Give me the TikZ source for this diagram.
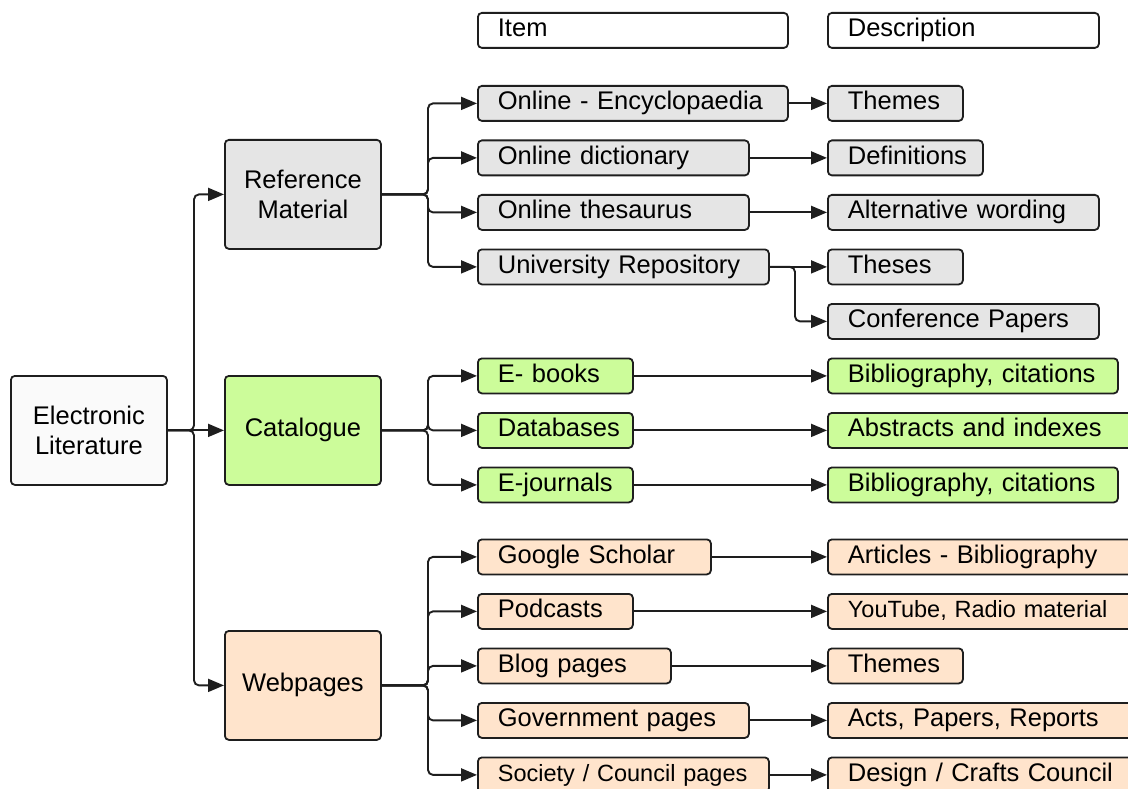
\documentclass[tikz,border=0pt]{standalone}
\usepackage{fontspec}
\setmainfont{Liberation Sans}
\usetikzlibrary{arrows.meta}
\definecolor{edge}{HTML}{1E1E1E}
\definecolor{elf}{HTML}{FAFAFA}
\definecolor{greyf}{HTML}{E5E5E5}
\definecolor{greenf}{HTML}{CCFC9A}
\definecolor{peachf}{HTML}{FFE4CC}
\newcommand\fs{\fontsize{25.5pt}{30pt}\selectfont}
\newcommand\fsm{\fontsize{23.5pt}{28pt}\selectfont}
\begin{document}
\begin{tikzpicture}[x=1pt,y=-1pt,
  box/.style={draw=edge, line width=1.8pt, rounded corners=4pt, anchor=north west, inner sep=0pt},
  cell/.style={box, font=\fs, text width=#1, minimum height=35pt, text height=18pt, text depth=5pt,
               align=left, execute at begin node={\hspace*{20pt}}},
  hub/.style={box, font=\fs, minimum width=156pt, minimum height=109pt, align=center},
  gry/.style={fill=greyf}, grn/.style={fill=greenf}, pch/.style={fill=peachf},
  conn/.style={draw=edge, line width=1.9pt, rounded corners=5pt, -{Triangle[length=16pt,width=13pt]}}]
\useasboundingbox (0,0) rectangle (1128,789);
\clip (0,0) rectangle (1128,789);

% column headers
\node[cell=310pt, fill=white] (hitem) at (477,12) {Item};
\node[cell=271pt, fill=white] (hdesc) at (827,12) {Description};

% root and main groups
\node[hub, fill=elf] (el) at (10,375) {Electronic\\Literature};
\node[hub, gry] (ref) at (224,139) {Reference\\Material};
\node[hub, grn] (cat) at (224,375) {Catalogue};
\node[hub, pch] (web) at (224,630) {Webpages};

% reference material items
\node[cell=310pt, gry] (enc) at (477,85) {Online - Encyclopaedia};
\node[cell=271pt, gry] (dic) at (477,139.5) {Online dictionary};
\node[cell=271pt, gry] (the) at (477,194) {Online thesaurus};
\node[cell=291pt, gry] (rep) at (477,248.5) {University Repository};
\node[cell=135pt, gry] (d1) at (827,85) {Themes};
\node[cell=155pt, gry] (d2) at (827,139.5) {Definitions};
\node[cell=271pt, gry] (d3) at (827,194) {Alternative wording};
\node[cell=135pt, gry] (d4) at (827,248.5) {Theses};
\node[cell=271pt, gry] (d5) at (827,303) {Conference Papers};

% catalogue items
\node[cell=155pt, grn] (ebk) at (477,357.5) {E- books};
\node[cell=155pt, grn] (dbs) at (477,412) {Databases};
\node[cell=155pt, grn] (ejn) at (477,466.5) {E-journals};
\node[cell=290pt, grn] (d6) at (827,357.5) {Bibliography, citations};
\node[cell=320pt, grn] (d7) at (827,412) {Abstracts and indexes};
\node[cell=290pt, grn] (d8) at (827,466.5) {Bibliography, citations};

% webpage items
\node[cell=233pt, pch] (gs) at (477,538.5) {Google Scholar};
\node[cell=155pt, pch] (pod) at (477,593) {Podcasts};
\node[cell=193pt, pch] (blg) at (477,647.5) {Blog pages};
\node[cell=271pt, pch] (gov) at (477,702) {Government pages};
\node[cell=291pt, pch, font=\fsm] (soc) at (477,756.5) {Society / Council pages};
\node[cell=320pt, pch] (d9) at (827,538.5) {Articles - Bibliography};
\node[cell=320pt, pch, font=\fsm] (d10) at (827,593) {YouTube, Radio material};
\node[cell=135pt, pch] (d11) at (827,647.5) {Themes};
\node[cell=320pt, pch] (d12) at (827,702) {Acts, Papers, Reports};
\node[cell=320pt, pch] (d13) at (827,756.5) {Design / Crafts Council};

% trunk positions
\coordinate (t0) at (194,0);
\coordinate (t1) at (428,0);
\coordinate (t2) at (795,0);

% root to groups
\draw[conn] (el.east) -- (el.east -| t0) |- (ref.west);
\draw[conn] (el.east) -- (cat.west);
\draw[conn] (el.east) -- (el.east -| t0) |- (web.west);

% groups to items
\foreach \c in {enc,dic,the,rep}
  \draw[conn] (ref.east) -- (ref.east -| t1) |- (\c.west);
\foreach \c in {ebk,dbs,ejn}
  \draw[conn] (cat.east) -- (cat.east -| t1) |- (\c.west);
\foreach \c in {gs,pod,blg,gov,soc}
  \draw[conn] (web.east) -- (web.east -| t1) |- (\c.west);

% items to descriptions
\draw[conn] (enc.east) -- (d1.west);
\draw[conn] (dic.east) -- (d2.west);
\draw[conn] (the.east) -- (d3.west);
\draw[conn] (rep.east) -- (d4.west);
\draw[conn] (rep.east) -- (rep.east -| t2) |- (d5.west);
\draw[conn] (ebk.east) -- (d6.west);
\draw[conn] (dbs.east) -- (d7.west);
\draw[conn] (ejn.east) -- (d8.west);
\draw[conn] (gs.east) -- (d9.west);
\draw[conn] (pod.east) -- (d10.west);
\draw[conn] (blg.east) -- (d11.west);
\draw[conn] (gov.east) -- (d12.west);
\draw[conn] (soc.east) -- (d13.west);
\end{tikzpicture}
\end{document}
